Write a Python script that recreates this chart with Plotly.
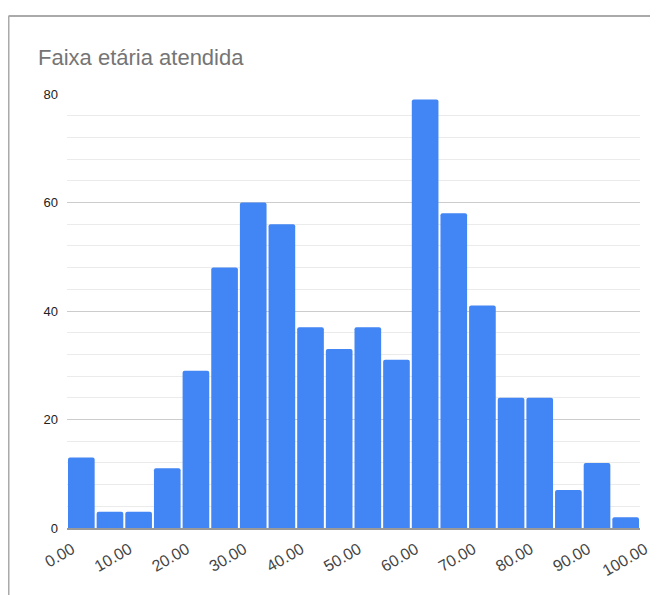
import plotly.graph_objects as go

bin_starts = [0, 5, 10, 15, 20, 25, 30, 35, 40, 45, 50, 55, 60, 65, 70, 75, 80, 85, 90, 95]
bin_width = 5
counts = [13, 3, 3, 11, 29, 48, 60, 56, 37, 33, 37, 31, 79, 58, 41, 24, 24, 7, 12, 2]
x_tick_values = [0, 10, 20, 30, 40, 50, 60, 70, 80, 90, 100]
x_tick_labels = ["0.00", "10.00", "20.00", "30.00", "40.00", "50.00",
                 "60.00", "70.00", "80.00", "90.00", "100.00"]
y_tick_values = [0, 20, 40, 60, 80]
title_text = "Faixa etária atendida"

centers = [s + bin_width / 2 for s in bin_starts]

W, H = 658, 595
OFF = 8  # page body margin offset
L, R, T, B = 67 - OFF, W - (640 - OFF), 94 - OFF, H - (528 - OFF)
pw, ph = W - L - R, H - T - B

def px(xs):
    return (xs - OFF - L) / pw

def py(ys):
    return (H - B - (ys - OFF)) / ph

fig = go.Figure()
fig.add_trace(go.Bar(
    x=centers, y=counts, width=[bin_width * 0.93] * len(centers),
    marker=dict(color="#4285F4", cornerradius=2, line=dict(width=0)),
    hoverinfo="x+y",
))

fig.update_layout(
    width=W, height=H,
    margin=dict(l=L, r=R, t=T, b=B),
    paper_bgcolor="white", plot_bgcolor="white",
    font=dict(family="Liberation Sans, Arial, sans-serif", color="#444444"),
    showlegend=False,
    title=dict(text=title_text, x=(38 - OFF) / W, xref="container", xanchor="left",
               y=1 - (57 - OFF) / H, yanchor="middle", yref="container",
               font=dict(size=22, color="#757575")),
    xaxis=dict(range=[0, 100], tickvals=x_tick_values, ticktext=x_tick_labels,
               tickangle=-30, tickfont=dict(size=16, color="#444444"),
               ticklabelstandoff=4, ticklabelshift=5,
               showgrid=False, zeroline=False, showline=True,
               linecolor="#999999", linewidth=2, ticks="", fixedrange=True),
    yaxis=dict(range=[0, 80], tickvals=y_tick_values,
               tickfont=dict(size=13, color="#222222"),
               showgrid=True, gridcolor="#cccccc", gridwidth=1,
               minor=dict(dtick=4, tick0=0, showgrid=True, gridcolor="#ebebeb", gridwidth=1),
               zeroline=False, ticks="", ticklabelstandoff=8, fixedrange=True),
    shapes=[
        dict(type="line", xref="paper", yref="paper",
             x0=px(8.5), x1=px(8.5), y0=py(16), y1=py(H + 20),
             line=dict(color="#aaaaaa", width=2)),
        dict(type="line", xref="paper", yref="paper",
             x0=px(8.5), x1=px(W + 20), y0=py(16), y1=py(16),
             line=dict(color="#aaaaaa", width=2)),
    ],
)

fig.write_html("out.html")
